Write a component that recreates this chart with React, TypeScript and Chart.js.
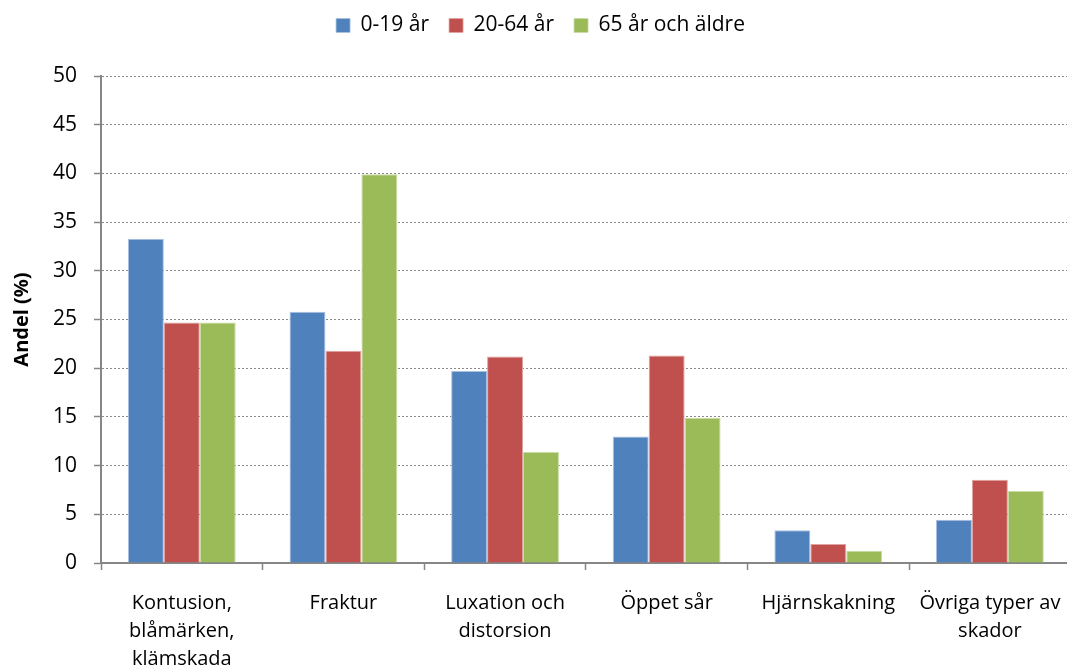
import React, { useEffect, useRef } from "react";
import { Chart, registerables } from "chart.js";

Chart.register(...registerables);

const categories: (string | string[])[] = [
  ["Kontusion,", "blåmärken,", "klämskada"],
  "Fraktur",
  ["Luxation och", "distorsion"],
  "Öppet sår",
  "Hjärnskakning",
  ["Övriga typer av", "skador"],
];

const seriesNames = ["0-19 år", "20-64 år", "65 år och äldre"];
const age0to19 = [33.3, 25.8, 19.7, 13.0, 3.35, 4.45];
const age20to64 = [24.7, 21.8, 21.2, 21.3, 1.95, 8.55];
const age65plus = [24.7, 39.9, 11.4, 14.9, 1.25, 7.4];

const fillColors = ["#4F81BD", "#C0504D", "#9BBB59"];
const edgeColors = ["#A9C1E0", "#E0A3A1", "#C9DBA6"];

const FONT = "'Open Sans', 'DejaVu Sans', sans-serif";
const LEGEND_HEIGHT = 81;

const legendFit = {
  id: "legendFit",
  beforeInit(chart: any) {
    const legend = chart.legend;
    if (!legend) return;
    const origFit = legend.fit;
    legend.fit = function () {
      origFit.call(this);
      this.height = LEGEND_HEIGHT;
    };
  },
};

export default function App() {
  const canvasRef = useRef<HTMLCanvasElement | null>(null);

  useEffect(() => {
    if (!canvasRef.current) return;
    Chart.defaults.font.family = FONT;
    const values = [age0to19, age20to64, age65plus];
    const chart = new Chart(canvasRef.current, {
      type: "bar",
      data: {
        labels: categories,
        datasets: seriesNames.map((name, i) => ({
          label: name,
          data: values[i],
          backgroundColor: fillColors[i],
          borderColor: edgeColors[i],
          borderWidth: { top: 1, left: 1, right: 1, bottom: 0 },
          categoryPercentage: 0.667,
          barPercentage: 1.0,
        })),
      },
      options: {
        responsive: false,
        animation: false,
        layout: { padding: { top: -5, left: 8, right: 7, bottom: 0 } },
        plugins: {
          tooltip: { enabled: false },
          legend: {
            position: "top",
            labels: {
              boxWidth: 14,
              boxHeight: 14,
              padding: 20,
              color: "#000",
              font: { size: 21, family: FONT },
            },
          },
        },
        scales: {
          x: {
            offset: true,
            grid: {
              display: true,
              drawOnChartArea: false,
              drawTicks: true,
              tickLength: 7,
              tickColor: "#868686",
              tickWidth: 1.5,
              offset: true,
            },
            border: { display: true, color: "#868686", width: 2 },
            ticks: {
              color: "#000",
              font: { size: 20, family: FONT, lineHeight: 1.4 },
              padding: 19,
              maxRotation: 0,
              minRotation: 0,
              autoSkip: false,
            },
            afterFit(scale: any) {
              scale.height = 107;
            },
          },
          y: {
            min: 0,
            max: 50,
            grid: {
              display: true,
              color: "#8A8A8A",
              lineWidth: 1,
              drawTicks: true,
              tickLength: 7,
              tickColor: "#868686",
              tickWidth: 1.5,
              tickBorderDash: [],
            },
            border: { display: true, color: "#868686", width: 2, dash: [2, 2] },
            ticks: {
              stepSize: 5,
              color: "#000",
              font: { size: 21, family: FONT },
              padding: 17,
            },
            title: {
              display: true,
              text: "Andel (%)",
              color: "#000",
              font: { size: 20, weight: "bold", family: FONT },
              padding: { top: 2, bottom: 0 },
            },
            afterFit(scale: any) {
              scale.width = 93;
            },
          },
        },
      },
      plugins: [legendFit],
    });
    return () => chart.destroy();
  }, []);

  return (
    <div
      style={{
        position: "fixed",
        left: 0,
        top: 0,
        width: 1067,
        height: 670,
        overflow: "hidden",
        background: "#fff",
      }}
    >
      <canvas
        ref={canvasRef}
        width={1080}
        height={670}
        style={{ display: "block", width: 1080, height: 670 }}
      />
    </div>
  );
}
